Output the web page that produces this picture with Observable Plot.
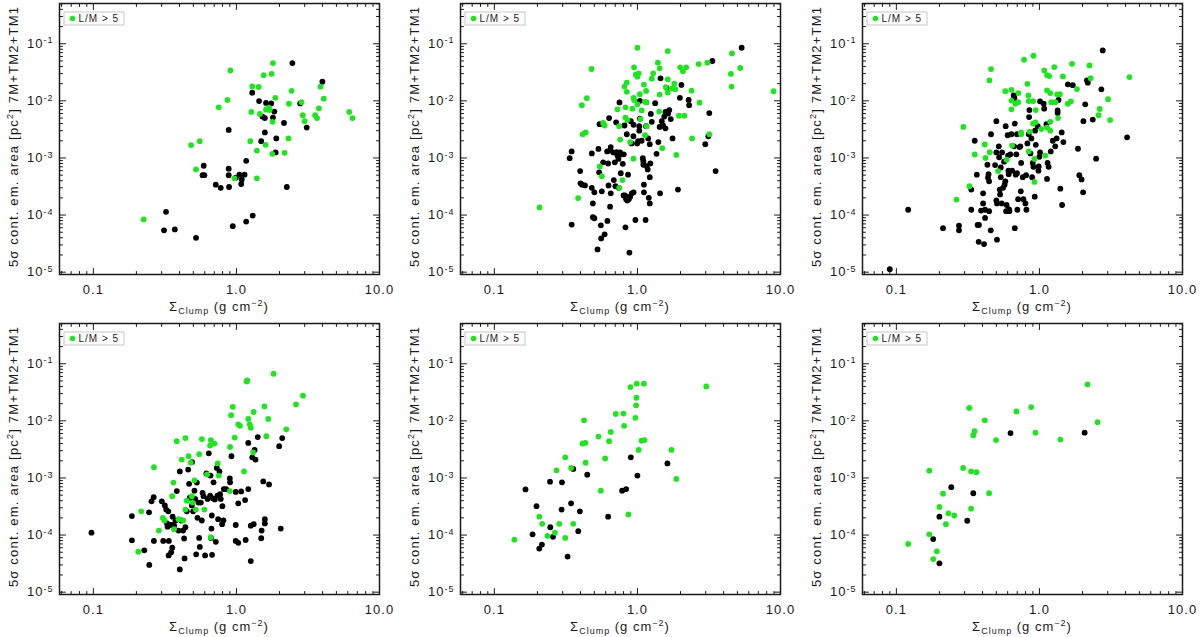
<!DOCTYPE html>
<html><head><meta charset="utf-8">
<script src="https://cdn.jsdelivr.net/npm/d3@7"></script>
<script src="https://cdn.jsdelivr.net/npm/@observablehq/plot@0.6"></script>
<style>
body{margin:0;background:#fff;}
#wrap{position:relative;width:1200px;height:637px;overflow:hidden;background:#fff;}
.cell{position:absolute;}
</style></head><body><div id="wrap"></div>
<script>
const X_MAJOR=[0.1,1,10];
const X_TICK_LABELS=["0.1","1.0","10.0"];
const X_MINOR=[0.06,0.07,0.08,0.09,0.2,0.3,0.4,0.5,0.6,0.7,0.8,0.9,2,3,4,5,6,7,8,9];
const Y_MAJOR=[1e-5,1e-4,1e-3,1e-2,1e-1];
const Y_TICK_LABELS=["10^-5","10^-4","10^-3","10^-2","10^-1"];
const Y_MINOR=[2e-5,3e-5,4e-5,5e-5,6e-5,7e-5,8e-5,9e-5,2e-4,3e-4,4e-4,5e-4,6e-4,7e-4,8e-4,9e-4,
  2e-3,3e-3,4e-3,5e-3,6e-3,7e-3,8e-3,9e-3,2e-2,3e-2,4e-2,5e-2,6e-2,7e-2,8e-2,9e-2,0.2,0.3,0.4,0.5];
const X_TITLE=["Σ","Clump"," (g cm","−2",")"];
const Y_TITLE=["5σ cont. em. area [pc","2","] 7M+TM2+TM1"];
const LEGEND_LABEL="L/M > 5";

// [Sigma_clump (g cm^-2), area (pc^2)]
const P1_BLACK=[[0.312,5.4e-5],[0.322,1.14e-4],[0.371,5.6e-5],[0.522,4.0e-5],[0.591,7.3e-4],[0.58,5.0e-4],[0.597,5.0e-4],[0.717,3.4e-4],[0.777,3.0e-4],[0.883,3.1e-3],[0.883,6.5e-4],[0.883,5.0e-4],[0.888,3.1e-4],[0.943,6.4e-5],[0.99,4.5e-4],[1.05,5.1e-4],[1.09,4.2e-4],[1.08,3.5e-4],[1.14,5.1e-4],[1.17,8.9e-4],[1.17,7.7e-5],[1.3,9.8e-5],[1.29,1.39e-2],[1.44,9.9e-3],[1.49,1.97e-3],[1.52,5.3e-3],[1.58,5.0e-3],[1.58,2.8e-3],[1.61,9.2e-3],[1.75,9.0e-3],[1.8,5.1e-3],[1.84,6.5e-3],[1.88,1.25e-3],[1.9,2.2e-3],[2.15,4.1e-3],[2.25,3.1e-4],[2.46,4.58e-2],[2.79,9.0e-3],[3.1,3.4e-3],[3.99,2.16e-2]];
const P1_GREEN=[[0.225,8.4e-5],[0.482,1.68e-3],[0.554,1.97e-3],[0.522,6.3e-4],[0.752,7.7e-3],[0.865,1.04e-2],[0.908,3.4e-2],[0.968,4.4e-4],[1.25,1.97e-3],[1.27,6.4e-3],[1.29,1.79e-2],[1.43,1.75e-2],[1.46,5.9e-3],[1.39,1.34e-3],[1.39,4.4e-4],[1.55,2.82e-2],[1.6,1.7e-3],[1.61,7.0e-3],[1.69,7.6e-3],[1.76,2.98e-2],[1.8,4.58e-2],[1.79,4.3e-3],[1.78,1.18e-3],[1.87,1.13e-2],[1.71,6.9e-3],[2.31,2.2e-3],[2.17,1.23e-3],[2.43,1.5e-2],[2.33,8.9e-3],[2.85,9.5e-3],[2.91,5.6e-3],[3.0,4.4e-3],[3.55,5.6e-3],[3.66,5.0e-3],[3.77,7.4e-3],[3.87,1.77e-2],[4.08,1.09e-2],[6.14,6.4e-3],[6.47,5.0e-3]];

const P2_BLACK=[[0.336,9.9e-4],[0.347,1.3e-3],[0.347,6.8e-5],[0.398,5.9e-4],[0.4,3.6e-4],[0.41,3.4e-4],[0.43,3.3e-4],[0.48,1.2e-3],[0.48,3.0e-4],[0.488,1.6e-4],[0.488,9.2e-5],[0.5,8.8e-5],[0.5,2.5e-4],[0.526,2.5e-5],[0.534,1.44e-3],[0.54,5.6e-4],[0.543,3.9e-3],[0.555,6.6e-5],[0.558,3.9e-5],[0.564,2.6e-4],[0.576,8.4e-4],[0.59,4.6e-5],[0.614,1.3e-3],[0.617,7.9e-5],[0.624,8.0e-4],[0.634,5.0e-3],[0.628,3.3e-4],[0.644,1.35e-3],[0.651,1.55e-3],[0.644,1.4e-4],[0.651,2.4e-4],[0.68,1.25e-3],[0.684,4.1e-4],[0.695,8.4e-4],[0.702,3.2e-4],[0.71,4.2e-3],[0.717,1.27e-3],[0.725,1.1e-3],[0.737,9.6e-4],[0.741,3.0e-4],[0.749,9.4e-3],[0.757,1.25e-3],[0.765,5.4e-4],[0.77,1.16e-3],[0.79,7.9e-4],[0.8,2.2e-4],[0.803,1.16e-3],[0.812,3.7e-3],[0.82,2.2e-4],[0.825,6.1e-5],[0.834,1.9e-4],[0.843,2.6e-3],[0.85,1.8e-4],[0.86,5.1e-4],[0.87,1.9e-4],[0.879,2.2e-5],[0.889,2.1e-4],[0.9,4.4e-3],[0.91,1.8e-3],[0.913,2.4e-4],[0.937,2.4e-3],[0.94,3.8e-3],[0.94,2.5e-4],[0.968,8.2e-5],[0.995,1.8e-3],[1.01,1.97e-3],[1.03,3.6e-3],[1.03,3.0e-3],[1.04,4.9e-3],[1.04,1.0e-2],[1.07,2.0e-3],[1.09,9.9e-4],[1.1,8.8e-4],[1.1,7.6e-4],[1.11,3.4e-4],[1.11,2.5e-4],[1.14,8.2e-5],[1.15,3.6e-3],[1.16,7.2e-4],[1.18,6.3e-4],[1.19,2.2e-3],[1.2,2.0e-4],[1.22,1.6e-4],[1.22,4.6e-4],[1.22,1.74e-3],[1.23,8.0e-4],[1.24,5.9e-3],[1.26,4.3e-3],[1.33,9.1e-3],[1.36,1.18e-3],[1.4,1.9e-3],[1.43,3.5e-3],[1.44,2.4e-4],[1.45,2.48e-2],[1.48,4.4e-3],[1.51,3.7e-3],[1.54,5.3e-3],[1.57,3.3e-3],[1.57,6.4e-3],[1.6,1.69e-2],[1.64,6.0e-3],[1.67,6.9e-3],[1.71,4.8e-3],[1.76,2.2e-3],[1.98,1.13e-2],[2.03,1.9e-2],[2.28,1.04e-2],[2.3,8.4e-3],[1.92,2.8e-4],[2.98,1.74e-3],[3.13,2.4e-3],[3.18,6.1e-3],[3.34,4.99e-2],[3.52,5.9e-4],[5.35,8.51e-2]];
const P2_GREEN=[[0.207,1.36e-4],[0.385,1.98e-4],[0.409,8.4e-3],[0.443,1.11e-2],[0.415,2.6e-3],[0.435,2.8e-3],[0.478,3.61e-2],[0.546,7.1e-4],[0.564,4.8e-4],[0.576,4.1e-3],[0.59,3.7e-3],[0.725,7.1e-3],[0.745,3.6e-3],[0.757,2.1e-3],[0.745,3.0e-4],[0.786,4.1e-4],[0.812,1.78e-2],[0.843,2.09e-2],[0.843,1.44e-2],[0.825,7.7e-3],[0.825,5.1e-3],[0.85,4.6e-3],[0.889,1.9e-3],[0.923,7.3e-3],[0.94,1.13e-2],[0.95,1.03e-2],[0.937,9.7e-4],[0.947,3.86e-2],[0.974,2.88e-2],[1.0,2.65e-2],[1.0,8.51e-2],[1.02,3.04e-2],[1.0,8.7e-3],[1.04,1.31e-2],[1.05,4.8e-3],[1.07,6.8e-3],[1.11,1.93e-2],[1.13,9.6e-3],[1.16,9.4e-3],[1.15,1.49e-2],[1.13,2.5e-3],[1.16,3.6e-3],[1.26,2.45e-2],[1.29,3.04e-2],[1.39,4.67e-2],[1.43,3.71e-2],[1.43,1.29e-2],[1.42,6.5e-3],[1.49,1.48e-3],[1.58,1.73e-2],[1.63,2.38e-2],[1.63,1.4e-2],[1.63,7.45e-2],[1.75,1.65e-2],[1.84,1.6e-2],[1.81,2.0e-2],[1.87,1.13e-3],[1.95,5.5e-3],[1.99,3.86e-2],[2.08,3.29e-2],[2.13,5.5e-3],[2.19,3.86e-2],[2.39,1.51e-2],[2.41,2.2e-3],[2.72,9.3e-3],[2.68,4.41e-2],[3.08,4.67e-2],[3.18,2.6e-3],[4.5,2.96e-2],[4.58,6.78e-2],[4.55,1.78e-2],[5.23,3.76e-2],[8.94,1.48e-2]];

const P3_BLACK=[[0.09,1.13e-5],[0.121,1.24e-4],[0.212,5.9e-5],[0.274,6.5e-5],[0.274,5.4e-5],[0.334,2.8e-4],[0.334,1.24e-4],[0.353,2.0e-3],[0.365,5.1e-4],[0.37,6.7e-5],[0.378,6.7e-5],[0.376,3.4e-5],[0.391,1.2e-4],[0.404,2.4e-4],[0.404,1.6e-4],[0.41,3.1e-5],[0.417,1.24e-4],[0.417,8.9e-5],[0.433,7.6e-4],[0.437,4.5e-4],[0.441,5.2e-4],[0.445,3.9e-4],[0.445,1.17e-4],[0.459,2.6e-3],[0.457,5.4e-5],[0.49,7.5e-4],[0.5,4.4e-3],[0.5,1.25e-3],[0.5,1.8e-4],[0.505,1.6e-4],[0.505,3.7e-5],[0.52,1.6e-3],[0.523,1.03e-3],[0.528,2.8e-4],[0.531,2.3e-4],[0.537,6.8e-4],[0.537,4.6e-4],[0.545,1.6e-4],[0.548,1.25e-3],[0.557,3.0e-4],[0.566,8.6e-4],[0.571,3.4e-4],[0.578,3.9e-4],[0.581,3.6e-3],[0.585,1.17e-4],[0.59,1.5e-4],[0.6,2.5e-3],[0.604,1.1e-3],[0.607,6.0e-4],[0.61,5.2e-4],[0.614,1.26e-4],[0.617,1.17e-4],[0.627,1.16e-3],[0.637,2.6e-3],[0.644,6.0e-4],[0.665,1.6e-3],[0.661,1.24e-2],[0.669,1.12e-2],[0.673,4.0e-3],[0.673,5.9e-5],[0.683,5.1e-4],[0.69,1.16e-3],[0.697,2.6e-3],[0.697,5.4e-4],[0.701,1.24e-4],[0.71,1.9e-4],[0.725,1.55e-3],[0.736,1.6e-3],[0.745,8.2e-4],[0.741,2.6e-4],[0.765,4.6e-4],[0.773,1.9e-4],[0.798,1.6e-4],[0.807,5.0e-4],[0.811,1.24e-4],[0.824,1.8e-3],[0.842,2.6e-3],[0.847,5.2e-3],[0.851,6.9e-3],[0.865,1.2e-3],[0.879,2.2e-3],[0.889,4.6e-4],[0.898,8.2e-4],[0.908,7.0e-4],[0.927,2.1e-4],[0.932,3.0e-3],[0.943,1.7e-3],[0.973,3.6e-3],[0.984,6.0e-4],[0.989,7.1e-4],[1.0,1.05e-3],[1.01,1.25e-3],[1.01,9.8e-3],[1.07,8.9e-3],[1.08,7.3e-3],[1.12,3.9e-3],[1.13,4.3e-4],[1.14,8.2e-4],[1.16,7.0e-4],[1.2,1.3e-3],[1.24,2.0e-3],[1.29,1.6e-3],[1.32,2.2e-3],[1.34,6.8e-3],[1.34,6.1e-3],[1.36,1.04e-2],[1.4,2.9e-4],[1.43,2.8e-3],[1.44,1.5e-4],[1.47,1.9e-3],[1.58,1.95e-2],[1.71,1.88e-2],[1.86,1.45e-3],[1.9,5.0e-4],[1.97,4.2e-4],[2.02,2.5e-4],[2.03,4.4e-3],[2.09,8.7e-3],[2.15,2.28e-2],[2.18,2.08e-2],[2.36,4.7e-3],[2.49,9.7e-4],[2.71,1.59e-2],[2.77,7.64e-2],[4.1,2.3e-3]];
const P3_GREEN=[[0.263,1.87e-4],[0.294,3.5e-3],[0.324,3.2e-4],[0.353,1.15e-3],[0.415,1.72e-3],[0.42,1.0e-3],[0.447,2.28e-2],[0.459,3.6e-2],[0.45,1.26e-3],[0.514,5.9e-4],[0.578,1.48e-2],[0.59,9.3e-4],[0.637,1.56e-2],[0.637,1.01e-2],[0.637,7.1e-3],[0.644,1.65e-3],[0.679,8.9e-3],[0.71,9.5e-3],[0.713,1.37e-2],[0.745,2.8e-3],[0.745,2.6e-3],[0.781,5.25e-2],[0.824,1.99e-2],[0.838,1.24e-2],[0.842,9.9e-3],[0.856,2.9e-3],[0.842,1.3e-3],[0.908,6.16e-2],[0.903,9.9e-3],[0.903,4.0e-3],[0.943,6.9e-3],[0.938,4.2e-3],[0.923,9.6e-4],[0.923,3.8e-4],[1.03,3.2e-3],[1.08,3.41e-2],[1.13,2.83e-2],[1.17,2.72e-2],[1.13,1.52e-2],[1.19,1.37e-2],[1.13,3.4e-3],[1.1,1.1e-3],[1.19,4.3e-3],[1.19,3.0e-3],[1.21,9.5e-3],[1.27,3.9e-2],[1.29,9.5e-3],[1.33,1.3e-2],[1.39,1.31e-2],[1.35,5.0e-3],[1.46,2.68e-2],[1.58,8.9e-3],[1.66,9.8e-3],[1.69,4.46e-2],[1.83,1.61e-2],[2.24,4.17e-2],[2.28,2.5e-2],[2.59,5.6e-3],[2.64,7.2e-3],[3.02,1.07e-2],[3.12,4.6e-3],[4.26,2.61e-2]];

const P4_BLACK=[[0.097,1.1e-4],[0.186,2.15e-4],[0.186,8.1e-5],[0.227,5.4e-5],[0.245,2.5e-4],[0.246,3.0e-5],[0.255,3.9e-4],[0.264,4.6e-4],[0.265,7.9e-5],[0.301,3.9e-4],[0.308,7.9e-5],[0.316,3.3e-4],[0.323,2.8e-4],[0.327,1.6e-4],[0.33,1.4e-4],[0.334,2.6e-4],[0.336,4.4e-5],[0.337,7.9e-5],[0.343,1.5e-4],[0.35,5.0e-5],[0.354,1.5e-4],[0.356,6.0e-5],[0.358,2.1e-4],[0.367,1.46e-4],[0.375,1.8e-4],[0.383,5.9e-4],[0.394,1.2e-4],[0.402,1.3e-3],[0.402,2.5e-5],[0.411,1.8e-4],[0.424,1.2e-4],[0.431,8.7e-5],[0.434,3.9e-5],[0.44,1.37e-4],[0.45,2.6e-4],[0.46,1.4e-3],[0.467,7.9e-4],[0.472,4.5e-4],[0.488,3.3e-4],[0.49,1.9e-3],[0.498,2.6e-4],[0.509,6.0e-4],[0.515,4.3e-4],[0.523,4.6e-5],[0.529,8.3e-4],[0.534,2.0e-4],[0.543,3.7e-4],[0.549,8.9e-5],[0.555,6.2e-5],[0.564,3.7e-4],[0.573,1.8e-4],[0.58,5.5e-4],[0.589,4.8e-4],[0.604,4.4e-5],[0.617,1.2e-3],[0.628,4.3e-4],[0.641,2.7e-3],[0.655,4.9e-4],[0.659,1.1e-3],[0.665,8.9e-5],[0.669,1.3e-4],[0.673,2.2e-4],[0.676,4.5e-5],[0.684,4.4e-4],[0.692,8.4e-4],[0.706,4.2e-4],[0.718,7.6e-5],[0.729,1.5e-3],[0.737,4.9e-4],[0.745,1.9e-4],[0.761,1.3e-3],[0.769,5.2e-4],[0.777,4.3e-4],[0.794,1.55e-4],[0.798,3.2e-4],[0.811,1.8e-4],[0.816,6.4e-4],[0.847,6.4e-4],[0.899,9.8e-4],[0.903,8.4e-4],[0.923,2.4e-3],[0.989,5.7e-4],[0.989,1.5e-4],[0.989,7.9e-5],[1.03,7.3e-5],[1.03,3.6e-4],[1.08,5.8e-4],[1.15,4.1e-4],[1.16,8.2e-5],[1.21,4.1e-3],[1.21,6.4e-4],[1.26,3.5e-5],[1.26,1.46e-4],[1.29,2.3e-3],[1.32,1.55e-4],[1.34,3.1e-3],[1.36,2.1e-3],[1.41,5.2e-3],[1.49,8.8e-5],[1.5,1.2e-4],[1.54,8.7e-4],[1.58,1.9e-4],[1.58,1.6e-4],[1.69,7.7e-4],[1.99,3.6e-3],[2.09,5.0e-3],[2.04,1.3e-4]];
const P4_GREEN=[[0.206,5.1e-5],[0.216,2.6e-4],[0.265,1.54e-3],[0.287,1.2e-4],[0.306,2.0e-4],[0.314,1.8e-4],[0.356,4.8e-4],[0.363,8.3e-4],[0.366,1.27e-4],[0.383,4.4e-3],[0.394,1.9e-4],[0.415,2.1e-3],[0.424,1.8e-4],[0.44,5.0e-3],[0.44,2.8e-4],[0.45,4.0e-4],[0.463,2.4e-3],[0.48,1.85e-3],[0.488,4.8e-4],[0.493,3.7e-4],[0.509,9.1e-4],[0.52,2.8e-4],[0.549,2.6e-3],[0.573,4.8e-3],[0.597,2.8e-4],[0.624,1.15e-3],[0.655,3.7e-3],[0.662,4.6e-3],[0.662,9.2e-5],[0.702,4.0e-3],[0.741,1.8e-3],[0.753,1.1e-3],[0.903,3.5e-3],[0.918,1.26e-2],[0.943,1.76e-2],[0.899,5.9e-4],[0.973,5.1e-3],[1.03,8.7e-3],[1.06,8.2e-3],[1.13,1.3e-3],[1.18,4.9e-2],[1.19,5.11e-2],[1.21,1.08e-2],[1.24,8.7e-3],[1.26,7.6e-3],[1.31,2.8e-3],[1.32,1.43e-2],[1.57,1.79e-2],[1.62,5.4e-3],[1.67,1.08e-2],[1.82,6.68e-2],[2.23,7.1e-3],[2.61,1.94e-2],[2.92,2.76e-2]];

const P5_BLACK=[[0.165,6.3e-4],[0.185,1.03e-4],[0.197,3.2e-4],[0.206,5.8e-5],[0.215,6.8e-5],[0.245,8.6e-4],[0.246,1.37e-4],[0.257,9.3e-5],[0.295,2.8e-4],[0.297,8.4e-4],[0.325,4.2e-5],[0.344,3.6e-4],[0.356,1.44e-3],[0.396,2.6e-4],[0.386,1.17e-4],[0.446,1.14e-3],[0.624,2.1e-4],[0.782,6.0e-4],[0.834,6.4e-4],[0.899,2.3e-3],[1.0,1.1e-3],[1.62,1.8e-3]];
const P5_GREEN=[[0.138,8.3e-5],[0.206,2.1e-4],[0.216,1.57e-4],[0.235,9.7e-5],[0.265,1.1e-4],[0.272,1.36e-3],[0.284,1.57e-4],[0.313,2.3e-3],[0.313,8.9e-5],[0.344,1.5e-3],[0.356,1.57e-4],[0.424,1.02e-2],[0.413,4.0e-3],[0.432,4.1e-3],[0.434,1.85e-3],[0.534,5.3e-3],[0.555,6.0e-4],[0.595,2.2e-3],[0.634,4.4e-3],[0.651,6.4e-3],[0.706,1.32e-2],[0.798,1.34e-2],[0.807,8.2e-3],[0.865,2.3e-4],[0.894,3.9e-2],[0.968,1.13e-2],[0.979,1.87e-2],[0.984,2.54e-2],[0.989,4.47e-2],[1.02,3.1e-3],[1.07,4.5e-3],[1.12,4.6e-3],[1.11,4.47e-2],[1.73,3.1e-3],[1.87,9.6e-4],[3.03,4.01e-2]];

const P6_BLACK=[[0.181,8.5e-5],[0.2,2.1e-4],[0.2,3.2e-5],[0.242,6.9e-4],[0.313,1.78e-4],[0.345,5.4e-4],[0.628,6.1e-3],[2.07,6.2e-3]];
const P6_GREEN=[[0.121,7.0e-5],[0.17,1.34e-3],[0.17,1.03e-4],[0.181,3.8e-5],[0.192,5.2e-5],[0.2,3.1e-4],[0.212,5.3e-4],[0.222,1.55e-4],[0.231,2.4e-4],[0.254,2.2e-4],[0.293,1.5e-3],[0.323,1.68e-2],[0.333,2.9e-4],[0.333,1.3e-3],[0.345,5.6e-3],[0.352,6.6e-3],[0.363,1.26e-3],[0.415,1.02e-2],[0.445,5.4e-4],[0.498,4.6e-3],[0.691,1.46e-2],[0.875,1.74e-2],[0.938,6.2e-3],[1.4,4.7e-3],[2.17,4.35e-2],[2.55,9.5e-3]];

const GREEN="#1fe41f";
const INK="#1a1a1a";
const FONT='"Liberation Sans", Arial, sans-serif';
const PANELS=[[P1_BLACK,P1_GREEN],[P2_BLACK,P2_GREEN],[P3_BLACK,P3_GREEN],[P4_BLACK,P4_GREEN],[P5_BLACK,P5_GREEN],[P6_BLACK,P6_GREEN]];
const CELL_LEFT=[0,401,803], CELL_TOP=[0,320];
const W=397,H=318,ML=59,MR=18,MT=3,MB=44;
const fmtX=new Map(X_MAJOR.map((v,i)=>[v,X_TICK_LABELS[i]]));
const fmtY=new Map(Y_MAJOR.map((v,i)=>[v,Y_TICK_LABELS[i]]));

// a plain line segment of the vector's length (no arrowhead)
const LINE={draw(ctx,l){ctx.moveTo(0,0);ctx.lineTo(0,-l);}};
function tickMarks(){
  const o={shape:LINE,anchor:"start",stroke:INK,strokeWidth:1};
  const mk=(vals,ch,frame,rot,len)=>Plot.vector(vals,{...o,[ch]:d=>d,frameAnchor:frame,rotate:rot,length:len});
  return [
    mk(X_MINOR,"x","bottom",0,3), mk(X_MAJOR,"x","bottom",0,6),
    mk(X_MINOR,"x","top",180,3),  mk(X_MAJOR,"x","top",180,6),
    mk(Y_MINOR,"y","left",90,3),  mk(Y_MAJOR,"y","left",90,6),
    mk(Y_MINOR,"y","right",-90,3),mk(Y_MAJOR,"y","right",-90,6)
  ];
}

function makePanel(black,green){
  const plot=Plot.plot({
    width:W,height:H,marginLeft:ML,marginRight:MR,marginTop:MT,marginBottom:MB,
    x:{type:"log",domain:[0.058,10]},
    y:{type:"log",domain:[9.1e-6,0.507]},
    style:{fontFamily:FONT,color:INK,background:"transparent",letterSpacing:"1px",overflow:"visible"},
    marks:[
      Plot.dot(black,{x:d=>d[0],y:d=>d[1],r:2.9,fill:"#000",stroke:null}),
      Plot.dot(green,{x:d=>d[0],y:d=>d[1],r:2.9,fill:GREEN,stroke:null}),
      ...tickMarks(),
      Plot.frame({stroke:INK,strokeWidth:1.5}),
      Plot.axisX(X_MAJOR,{anchor:"bottom",tickSize:0,tickPadding:10,tickFormat:d=>fmtX.get(d),fontSize:13,label:null}),
      Plot.axisY(Y_MAJOR,{anchor:"left",tickSize:0,tickPadding:6,tickFormat:d=>fmtY.get(d),fontSize:13,label:null})
    ]
  });
  const svg=d3.select(plot);
  svg.selectAll('g[aria-label="y-axis tick label"] text').each(function(){
    const parts=this.textContent.split("^");
    this.textContent=parts[0];
    d3.select(this).append("tspan").attr("dy","-0.5em").attr("font-size","9px").text(parts[1]);
  });
  const cx=ML+(W-ML-MR)/2, cy=MT+(H-MT-MB)/2;
  // x title
  const xt=svg.append("text").attr("x",cx).attr("y",311).attr("text-anchor","middle")
    .attr("font-size",13).attr("fill",INK);
  xt.append("tspan").text(X_TITLE[0]);
  xt.append("tspan").attr("font-size",9).attr("dy",3).text(X_TITLE[1]);
  xt.append("tspan").attr("dy",-3).text(X_TITLE[2]);
  xt.append("tspan").attr("font-size",9).attr("dy",-5).text(X_TITLE[3]);
  xt.append("tspan").attr("dy",5).text(X_TITLE[4]);
  // y title
  const yt=svg.append("text").attr("transform",`translate(18,${cy-2}) rotate(-90)`).attr("text-anchor","middle")
    .attr("font-size",13).attr("fill",INK).attr("letter-spacing","1.2px");
  yt.append("tspan").text(Y_TITLE[0]);
  yt.append("tspan").attr("font-size",9).attr("dy",-5).text(Y_TITLE[1]);
  yt.append("tspan").attr("dy",5).text(Y_TITLE[2]);
  // legend
  const lg=svg.append("g").attr("transform",`translate(${ML+5},12)`);
  lg.append("rect").attr("width",60).attr("height",13).attr("fill","#fff").attr("stroke","#c8c8c8").attr("stroke-width",1);
  lg.append("circle").attr("cx",8.5).attr("cy",6.5).attr("r",2.8).attr("fill",GREEN);
  lg.append("text").attr("x",14.5).attr("y",10.3).attr("text-anchor","start").attr("font-size",10).attr("fill",INK).text(LEGEND_LABEL);
  return plot;
}

const wrap=document.getElementById("wrap");
PANELS.forEach(([b,g],i)=>{
  const div=document.createElement("div");
  div.className="cell";
  div.style.left=CELL_LEFT[i%3]+"px";
  div.style.top=CELL_TOP[Math.floor(i/3)]+"px";
  div.appendChild(makePanel(b,g));
  wrap.appendChild(div);
});
</script></body></html>
